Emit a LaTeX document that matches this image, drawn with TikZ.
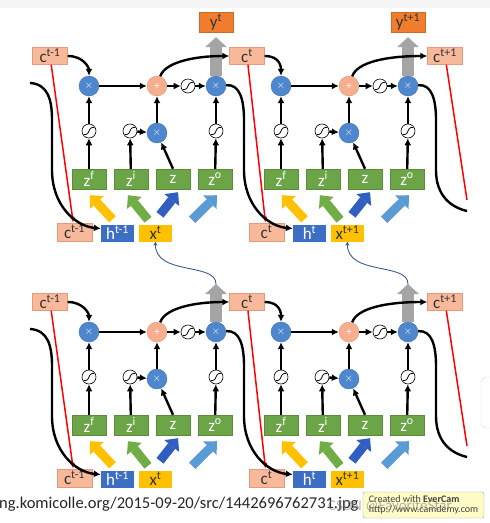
\documentclass[tikz,border=0pt]{standalone}
\usepackage{fontspec}
\setmainfont{Carlito}
\usetikzlibrary{arrows.meta,calc,backgrounds}

\definecolor{cellpeach}{HTML}{F8B99B}
\definecolor{cellline}{HTML}{E49A7C}
\definecolor{outorange}{HTML}{F07D2E}
\definecolor{gateblue}{HTML}{4F87CF}
\definecolor{addpeach}{HTML}{F6AE8E}
\definecolor{zgreen}{HTML}{6BA547}
\definecolor{hblue}{HTML}{3C6FC4}
\definecolor{xgold}{HTML}{FFC000}
\definecolor{fatyellow}{HTML}{FFC000}
\definecolor{fatgreen}{HTML}{70AD47}
\definecolor{fatblue}{HTML}{2F5FC0}
\definecolor{fatsky}{HTML}{5B9BD5}
\definecolor{arrowgray}{HTML}{A5A5A5}
\definecolor{linkblue}{HTML}{3A5F8F}
\definecolor{textgray}{HTML}{333333}

\newcommand{\boxfont}{\fontsize{17}{17}\selectfont}

\tikzset{
    cbox/.style={draw=cellline, fill=cellpeach, text=textgray, minimum width=35pt, minimum height=17pt, inner sep=0pt, font=\boxfont},
    ybox/.style={draw=outorange!85!black, fill=outorange, text=textgray, minimum width=34pt, minimum height=20pt, inner sep=0pt, font=\boxfont},
    zbox/.style={draw=zgreen!85!black, fill=zgreen, text=white, minimum width=34pt, minimum height=20pt, inner sep=0pt, font=\boxfont},
    hbox/.style={fill=hblue, text=white, minimum width=33pt, minimum height=17pt, inner sep=0pt, font=\boxfont},
    xbox/.style={fill=xgold, text=textgray, minimum width=33pt, minimum height=17pt, inner sep=0pt, font=\boxfont},
    mulnode/.style={circle, fill=gateblue, draw=gateblue!85!black, minimum size=20pt, inner sep=0pt, text=white, font=\fontsize{11}{11}\selectfont},
    addnode/.style={circle, fill=addpeach, draw=addpeach!90!black, minimum size=20pt, inner sep=0pt, text=white, font=\fontsize{11}{11}\selectfont},
    signode/.style={circle, draw=black, fill=white, line width=0.6pt, minimum size=14pt, inner sep=0pt,
        path picture={\draw[line width=0.7pt] ([xshift=-5pt,yshift=-3.5pt]path picture bounding box.center) -- +(2pt,0pt)
            .. controls +(3pt,0pt) and +(-3pt,0pt) .. ([xshift=3pt,yshift=3.5pt]path picture bounding box.center) -- +(2pt,0pt);}},
    flow/.style={line width=2.4pt, -{Latex[length=7pt,width=7pt]}},
    redline/.style={red, line width=1.5pt, -{Latex[length=6pt,width=5pt]}},
    fat/.style={line width=9pt, -{Triangle[length=10pt,width=19pt,line width=0pt]}},
    outarrow/.style={draw=arrowgray, line width=12pt, -{Triangle[length=10pt,width=22pt,line width=0pt]}},
    linkcurve/.style={draw=linkblue, line width=0.9pt, -{Stealth[length=4pt,width=4pt]}},
}

\begin{document}
\begin{tikzpicture}[x=1pt, y=-1pt]
\useasboundingbox (0,0) rectangle (490,523);

\foreach \row/\dy in {t/0, b/246} {
    % ---- cell states along the top ----
    \foreach \j/\x/\s in {1/50/{t-1}, 2/247/t, 3/445/{t+1}}
        \node[cbox] (\row c\j) at (\x, 56+\dy) {c\textsuperscript{\s}};
    \coordinate (\row o0) at (30, 83+\dy);

    % ---- one LSTM block per time step ----
    \foreach \ci/\cb/\cn/\dx/\cp/\xp in {1/0/2/0/{t-1}/t, 2/1/3/192/t/{t+1}} {
        \node[mulnode] (\row\ci fx) at (89+\dx, 86+\dy) {$\times$};
        \node[addnode] (\row\ci p)  at (157+\dx, 86+\dy) {+};
        \node[signode] (\row\ci th) at (188+\dx, 86+\dy) {};
        \node[mulnode] (\row o\ci)  at (216+\dx, 86+\dy) {$\times$};
        \node[signode] (\row\ci sf) at (89+\dx, 131+\dy) {};
        \node[signode] (\row\ci si) at (130+\dx, 131+\dy) {};
        \node[mulnode] (\row\ci ix) at (157+\dx, 133+\dy) {$\times$};
        \node[signode] (\row\ci so) at (216+\dx, 131+\dy) {};
        \node[zbox] (\row\ci zf) at (89+\dx, 179+\dy) {z\textsuperscript{f}};
        \node[zbox] (\row\ci zi) at (131+\dx, 179+\dy) {z\textsuperscript{i}};
        \node[zbox] (\row\ci z)  at (173+\dx, 179+\dy) {z};
        \node[zbox] (\row\ci zo) at (215+\dx, 179+\dy) {z\textsuperscript{o}};
        \node[cbox, minimum height=18pt] (\row\ci cb) at (74.5+\dx, 232+\dy) {c\textsuperscript{\cp}};
        \node[hbox] (\row h\ci) at (117.5+\dx, 233+\dy) {h\textsuperscript{\cp}};
        \node[xbox] (\row x\ci) at (155.5+\dx, 233+\dy) {x\textsuperscript{\xp}};

        % inputs into the four z
        \draw[fat, draw=fatyellow] ($(\row h\ci.north)+(-5,-5)$) -- ($(\row\ci zf.south)+(1,6)$);
        \draw[fat, draw=fatgreen] ($(\row x\ci.north)+(-7.5,-4.5)$) -- ($(\row\ci zi.south)+(-3,6)$);
        \draw[fat, draw=fatblue] ($(\row x\ci.north)+(4.5,-9.5)$) -- ($(\row\ci z.south)+(5,3)$);
        \draw[fat, draw=fatsky] ($(\row x\ci.north east)+(20,-4.5)$) -- ($(\row\ci zo.south)+(2,6)$);

        % gates
        \draw[flow] (\row\ci zf) -- (\row\ci sf);
        \draw[flow] (\row\ci sf) -- (\row\ci fx);
        \draw[flow] (\row\ci zi) -- (\row\ci si);
        \draw[flow] (\row\ci si) -- (\row\ci ix);
        \draw[flow] (\row\ci z.north) -- (\row\ci ix);
        \draw[flow] (\row\ci ix) -- (\row\ci p);
        \draw[flow] (\row\ci zo) -- (\row\ci so);
        \draw[flow] (\row\ci so) -- (\row o\ci);
        \draw[flow] (\row\ci fx) -- (\row\ci p);
        \draw[flow] (\row\ci p) -- (\row\ci th);
        \draw[flow] (\row\ci th) -- (\row o\ci);

        % memory in and out
        \draw[flow] (\row c\ci.east) .. controls +(16,0) and +(0,-18) .. (\row\ci fx);
        \draw[flow] (\row\ci p) .. controls (165+\dx, 62+\dy) and (195+\dx, 56+\dy) .. (\row c\cn.west);
        \draw[redline] (\row c\ci) -- (\row\ci cb);
        \draw[flow] (\row o\cb) .. controls (48+\dx, 84+\dy) and (52+\dx, 100+\dy) .. (52+\dx, 120+\dy)
            -- (52+\dx, 170+\dy) .. controls (52+\dx, 205+\dy) and (75+\dx, 226+\dy) .. (\row h\ci.165);
    }

    % ---- loose ends on the right ----
    \coordinate (\row hend) at (467, 211+\dy);
    \coordinate (\row cend) at (467, 200+\dy);
    \draw[flow, -] (\row o2) .. controls (432, 84+\dy) and (436, 100+\dy) .. (436, 120+\dy)
        -- (436, 170+\dy) .. controls (436, 195+\dy) and (450, 207+\dy) .. (\row hend);
    \draw[redline, -] (\row c3) -- (\row cend);
}

% outputs
\node[ybox] (y1) at (216, 22) {y\textsuperscript{t}};
\node[ybox] (y2) at (408, 22) {y\textsuperscript{t+1}};
\coordinate (bg1) at (216, 284);
\coordinate (bg2) at (408, 284);

\begin{pgfonlayer}{background}
    \fill[gray!8] (0,0) rectangle (490,8);
    \draw[outarrow, shorten >=5pt] (to1) -- (y1);
    \draw[outarrow, shorten >=5pt] (to2) -- (y2);
    \draw[outarrow] (bo1) -- (bg1);
    \draw[outarrow] (bo2) -- (bg2);
\end{pgfonlayer}

% next step takes y as its x
\draw[linkcurve] (bg1) .. controls (216, 262) and (155, 276) .. (tx1);
\draw[linkcurve] (bg2) .. controls (408, 262) and (347, 276) .. (tx2);

% ---- screen leftovers ----
\draw[rounded corners=6pt, draw=gray!25, fill=white] (481,377) rectangle (505,428);
\node[anchor=base west, inner sep=0pt, text=black!85, font=\fontsize{16.5}{16.5}\selectfont] (url) at (-1, 508)
    {ng.komicolle.org/2015-09-20/src/1442696762731.jpg};
\node[draw=gray!70, fill=yellow!22, rounded corners=2pt, minimum width=121pt, minimum height=26pt,
    inner sep=1pt, align=left, text=black!75, font=\fontsize{10}{10.5}\selectfont] (evercam) at (423.5, 505)
    {Created with \textbf{EverCam}\\http://www.camdemy.com};
\node[text=gray, opacity=0.6, font=\fontsize{15}{15}\selectfont] (mark) at (390, 506) {CSDN @FavoriteStar};

\end{tikzpicture}
\end{document}
